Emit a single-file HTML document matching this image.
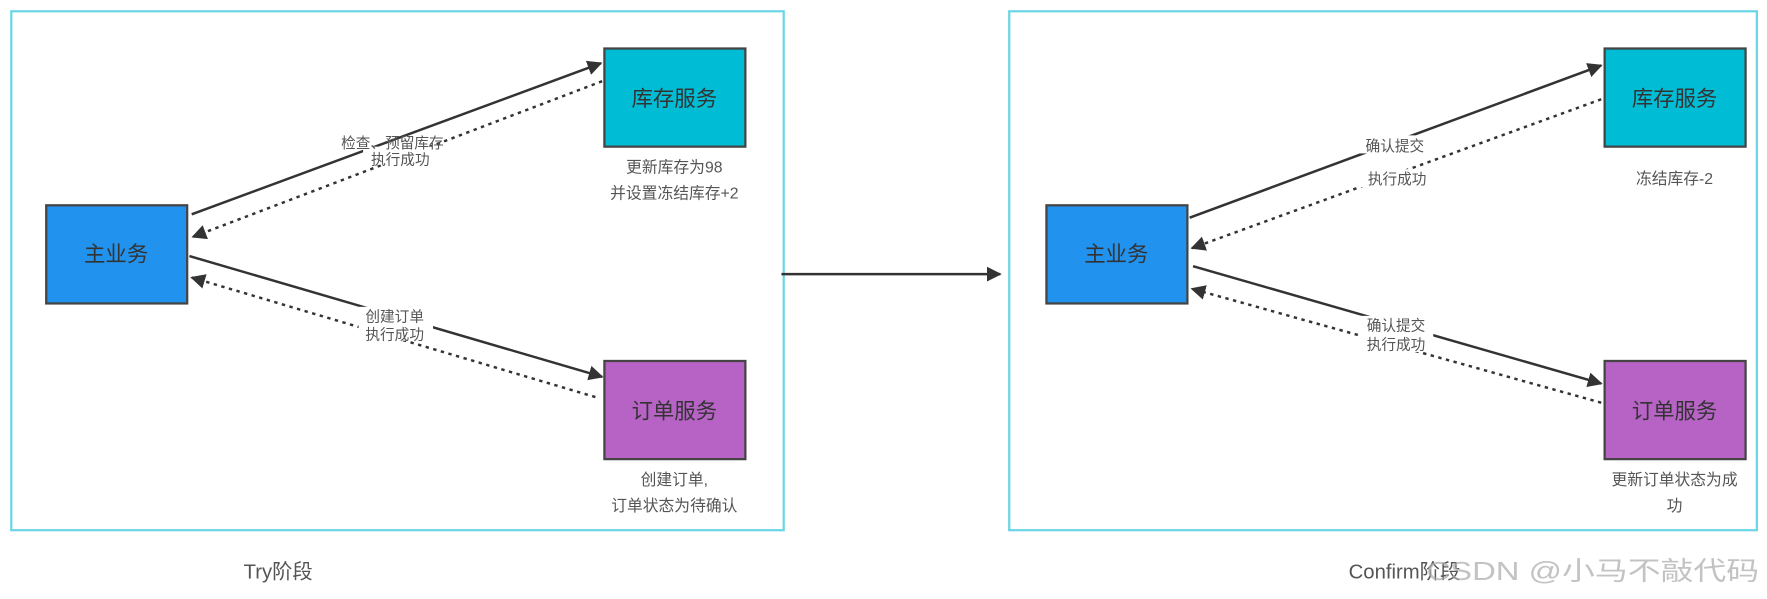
<!DOCTYPE html>
<html><head><meta charset="utf-8"><style>
html,body{margin:0;padding:0;background:#fff;width:1767px;height:599px;overflow:hidden}
svg text{font-family:"Liberation Sans","Noto Sans CJK SC",sans-serif}
</style></head><body>
<svg width="1767" height="599" viewBox="0 0 1567 531" preserveAspectRatio="none" xmlns="http://www.w3.org/2000/svg">
<defs>
<marker id="a" viewBox="0 0 10 10" refX="9" refY="5" markerWidth="6" markerHeight="6" orient="auto"><path d="M0,0 L10,5 L0,10 z" fill="#333"/></marker>
</defs>
<rect x="10" y="10" width="685" height="460" fill="none" stroke="#6dd6e6" stroke-width="2"/>
<rect x="895" y="10" width="663" height="460" fill="none" stroke="#6dd6e6" stroke-width="2"/>
<g stroke="#444" stroke-width="2">
<rect x="41" y="182" width="125" height="87" fill="#2193ee"/>
<rect x="536" y="43" width="125" height="87" fill="#00bcd4"/>
<rect x="536" y="320" width="125" height="87" fill="#b763c6"/>
<rect x="928" y="182" width="125" height="87" fill="#2193ee"/>
<rect x="1423" y="43" width="125" height="87" fill="#00bcd4"/>
<rect x="1423" y="320" width="125" height="87" fill="#b763c6"/>
</g>
<g font-size="19" fill="#333" text-anchor="middle">
<text x="103" y="232">主业务</text>
<text x="598" y="94">库存服务</text>
<text x="598" y="371">订单服务</text>
<text x="990" y="232">主业务</text>
<text x="1485" y="94">库存服务</text>
<text x="1485" y="371">订单服务</text>
</g>
<g stroke="#333" stroke-width="2.2" fill="none">
<path d="M170,190 L533,56" marker-end="url(#a)"/>
<path d="M534,72 L171,210" stroke-dasharray="3,4" marker-end="url(#a)"/>
<path d="M168,227 L534,334" marker-end="url(#a)"/>
<path d="M528,352 L170,246" stroke-dasharray="3,4" marker-end="url(#a)"/>
<path d="M1055,193 L1420,58" marker-end="url(#a)"/>
<path d="M1420,88 L1057,220" stroke-dasharray="3,4" marker-end="url(#a)"/>
<path d="M1058,236 L1420,340" marker-end="url(#a)"/>
<path d="M1420,357 L1057,256" stroke-dasharray="3,4" marker-end="url(#a)"/>
<path d="M693,243 L887,243" marker-end="url(#a)"/>
</g>
<g font-size="13" fill="#555" text-anchor="middle">
<rect x="322" y="130" width="66" height="16" fill="#fff"/>
<text x="348" y="131">检查、预留库存</text>
<text x="355" y="146">执行成功</text>
<rect x="318" y="272" width="66" height="30" fill="#fff"/>
<text x="350" y="285">创建订单</text>
<text x="350" y="301">执行成功</text>
<rect x="1204" y="120" width="66" height="16" fill="#fff"/>
<rect x="1206" y="150" width="66" height="16" fill="#fff"/>
<text x="1237" y="134">确认提交</text>
<text x="1239" y="163">执行成功</text>
<rect x="1205" y="280" width="66" height="32" fill="#fff"/>
<text x="1238" y="293">确认提交</text>
<text x="1238" y="310">执行成功</text>
<text x="598" y="153" font-size="14">更新库存为98</text>
<text x="598" y="176" font-size="14">并设置冻结库存+2</text>
<text x="1485" y="163" font-size="14">冻结库存-2</text>
<text x="598" y="430" font-size="14">创建订单,</text>
<text x="598" y="453" font-size="14">订单状态为待确认</text>
<text x="1485" y="430" font-size="14">更新订单状态为成</text>
<text x="1485" y="453" font-size="14">功</text>
</g>
<g font-size="18" fill="#555">
<text x="216" y="513">Try阶段</text>
<text x="1196" y="513">Confirm阶段</text>
<text x="1265" y="514" fill="#aaa" opacity="0.7" font-size="23" textLength="295" lengthAdjust="spacingAndGlyphs">CSDN @小马不敲代码</text>
</g>
</svg>
</body></html>
